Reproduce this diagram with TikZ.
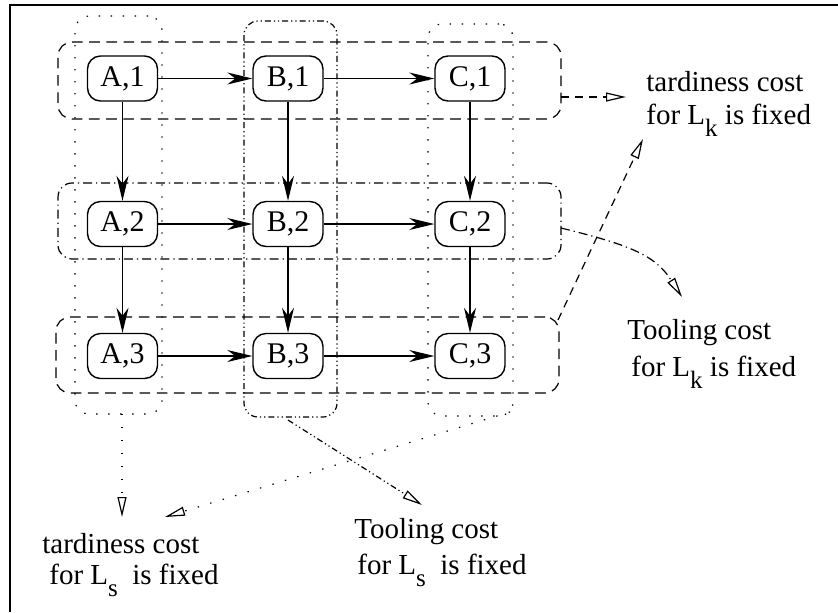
\documentclass[tikz,border=0pt]{standalone}
\usepackage{fontspec}
\setmainfont{Liberation Serif}
\usetikzlibrary{arrows.meta}
\newcommand\lsub[1]{\raisebox{-6pt}{\fontsize{12.5}{12.5}\selectfont #1}}
\begin{document}
\begin{tikzpicture}[x=0.5pt,y=-0.5pt,
  cell/.style={draw, rounded corners=6.5pt, minimum width=35pt, minimum height=22.5pt,
    inner sep=0pt, line width=0.7pt, font=\fontsize{15}{17}\selectfont},
  grp/.style={draw, rounded corners=7pt, inner sep=0pt, line width=0.6pt},
  rowdash/.style={dash pattern=on 5.3pt off 3.3pt},
  rowdashdot/.style={dash pattern=on 4.5pt off 2pt on 0.6pt off 2pt},
  coldot/.style={dash pattern=on 0.7pt off 5.3pt},
  coldashdotdot/.style={dash pattern=on 3pt off 1.5pt on 0.6pt off 1.5pt on 0.6pt off 1.5pt},
  notedash/.style={dash pattern=on 4pt off 3pt},
  notedot/.style={dash pattern=on 0.7pt off 5.8pt},
  flow/.style={-{Stealth[length=12.5pt,width=6pt,inset=4pt]}, line width=0.6pt},
  note/.style={-{Triangle[open,length=10pt,width=4.5pt]}, line width=0.6pt},
  lbl/.style={inner sep=0pt, anchor=north west, align=left}
]
\useasboundingbox (0,0) rectangle (838,612);
% frame (cropped on right and bottom)
\draw[line width=1pt] (10,612) -- (10,4.5) -- (838,4.5);

% group boxes
\node[grp, rowdash, minimum width=251.5pt, minimum height=38.5pt] (r1) at (309.5,80.5) {};
\node[grp, rowdashdot, minimum width=251.5pt, minimum height=38pt] (r2) at (309.5,221) {};
\node[grp, rowdash, minimum width=251.5pt, minimum height=38pt] (r3) at (307.5,355) {};
\node[grp, coldot, minimum width=43.5pt, minimum height=199pt] (ca) at (118.5,215) {};
\node[grp, coldashdotdot, minimum width=46.5pt, minimum height=198pt] (cb) at (290.5,219) {};
\node[grp, coldot, minimum width=42.5pt, minimum height=196pt] (cc) at (470.5,220) {};

% cells
\node[cell] (a1) at (122.5,78.5) {A,1};
\node[cell] (b1) at (288,78.5) {B,1};
\node[cell] (c1) at (470,78.5) {C,1};
\node[cell] (a2) at (122.5,224) {A,2};
\node[cell] (b2) at (288,224) {B,2};
\node[cell] (c2) at (470,224) {C,2};
\node[cell] (a3) at (122.5,356) {A,3};
\node[cell] (b3) at (288,356) {B,3};
\node[cell] (c3) at (470,356) {C,3};

% flow arrows
\draw[flow] (a1) -- (b1);
\draw[flow] (b1) -- (c1);
\draw[flow] (a2) -- (b2);
\draw[flow] (b2) -- (c2);
\draw[flow] (a3) -- (b3);
\draw[flow] (b3) -- (c3);
\draw[flow] (a1) -- (a2);
\draw[flow] (a2) -- (a3);
\draw[flow] (b1) -- (b2);
\draw[flow] (b2) -- (b3);
\draw[flow] (c1) -- (c2);
\draw[flow] (c2) -- (c3);

% labels
\node[lbl, font=\fontsize{14.5}{16.5}\selectfont] (tk) at (646,71)
  {tardiness cost\\for L\lsub{k} is fixed};
\node[lbl, font=\fontsize{14.5}{18.5}\selectfont] (Tk) at (627,319)
  {Tooling cost\\\hspace*{2pt}for L\lsub{k} is fixed};
\node[lbl, font=\fontsize{14.5}{15.5}\selectfont] (ts) at (42,533)
  {tardiness cost\\\hspace*{3.5pt}for L\lsub{s}\ \ is fixed};
\node[lbl, font=\fontsize{14.5}{18}\selectfont] (Ts) at (354,518)
  {Tooling cost\\\hspace*{1.5pt}for L\lsub{s}\ \ is fixed};

% annotation arrow ends
\coordinate (s1) at (561,97);   \coordinate (e1) at (626,97);
\coordinate (s2) at (558,320);  \coordinate (e2) at (643,139);
\coordinate (s3) at (561,228);  \coordinate (e3) at (682,297);
\coordinate (s4) at (122,414);  \coordinate (e4) at (122,517);
\coordinate (s5) at (510,412);  \coordinate (e5) at (165,517);
\coordinate (s6) at (288,420);  \coordinate (e6) at (422,505);

\draw[note, notedash] (s1) -- (e1);
\draw[note, notedash] (s2) -- (e2);
\draw[note, rowdashdot] (s3) .. controls (630,245) and (655,255) .. (e3);
\draw[note, notedot] (s4) -- (e4);
\draw[note, notedot] (s5) -- (e5);
\draw[note, coldashdotdot] (s6) -- (e6);
\end{tikzpicture}
\end{document}
